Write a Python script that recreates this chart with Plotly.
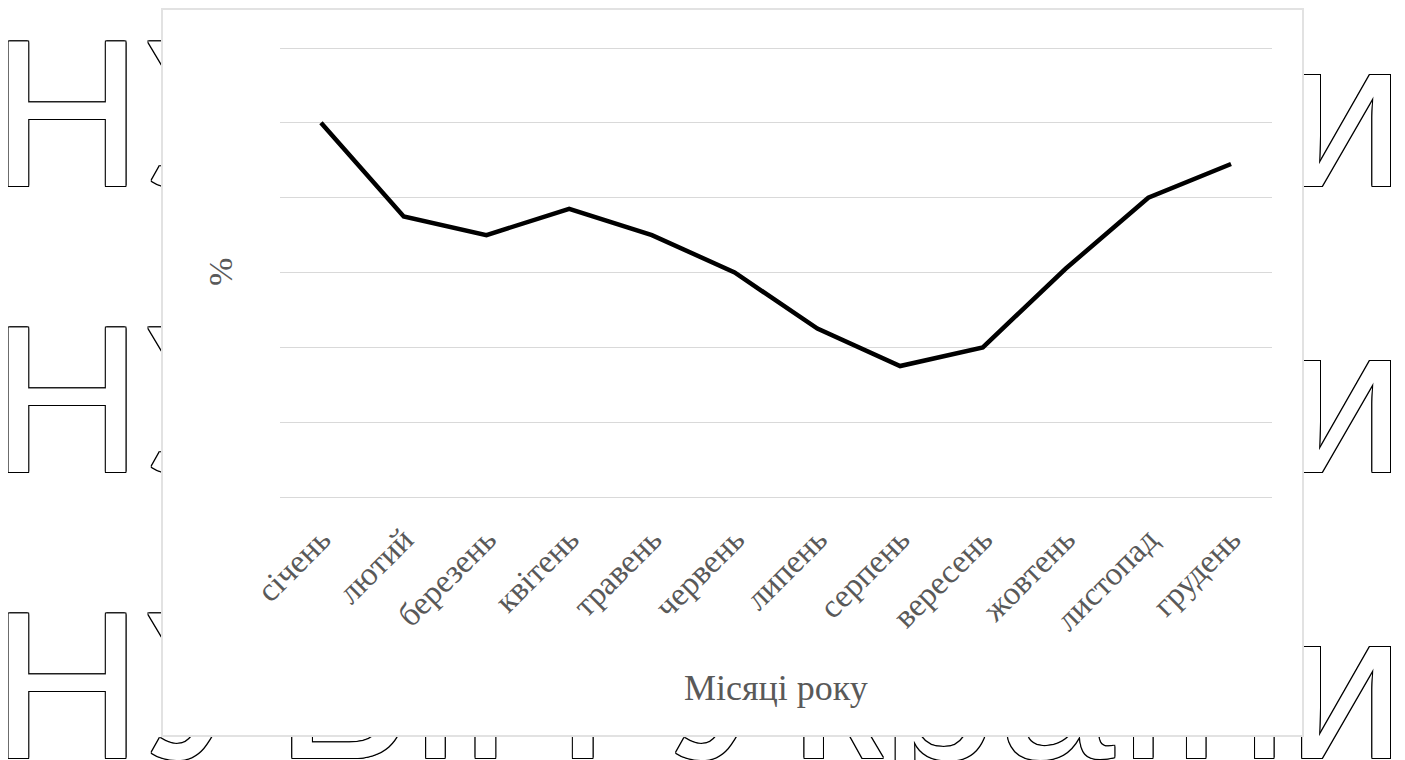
import plotly.graph_objects as go

months = ["січень", "лютий", "березень", "квітень", "травень", "червень",
          "липень", "серпень", "вересень", "жовтень", "листопад", "грудень"]
values = [10.0, 7.5, 7.0, 7.7, 7.0, 6.0, 4.5, 3.5, 4.0, 6.1, 8.0, 8.9]
x_title = "Місяці року"
y_title = "%"
watermark_text = "НУБіП України"
watermark_rows = [126, 411.5, 698]  # pixel rows of watermark (background layer)

W, H = 1405, 760
GRAY = "#595959"
SERIF = "Liberation Serif, Times New Roman, serif"

fig = go.Figure()

# background watermark layer (subplot xy, full paper, pixel coordinates)
outline = ("1px 0 0 #000, -1px 0 0 #000, 0 1px 0 #000, 0 -1px 0 #000, "
           "1px 1px 0 #000, -1px -1px 0 #000, 1px -1px 0 #000, -1px 1px 0 #000")
fig.add_trace(go.Scatter(
    x=[690] * len(watermark_rows), y=watermark_rows,
    text=[watermark_text] * len(watermark_rows),
    mode="text", textposition="middle center",
    textfont=dict(family="Liberation Sans, Arial, sans-serif", size=209,
                  color="white", shadow=outline),
    hoverinfo="skip", xaxis="x", yaxis="y", showlegend=False, cliponaxis=False,
))

# white chart box (subplot x2y2)
fig.add_trace(go.Scatter(x=[None], y=[None], xaxis="x2", yaxis="y2",
                         showlegend=False, hoverinfo="skip"))

# main line (subplot x3y3)
fig.add_trace(go.Scatter(
    x=months, y=values, mode="lines",
    line=dict(color="black", width=4.5),
    xaxis="x3", yaxis="y3", showlegend=False,
))

hidden = dict(showgrid=False, zeroline=False, showticklabels=False, ticks="")

fig.update_layout(
    width=W, height=H,
    margin=dict(l=0, r=0, t=0, b=0, autoexpand=False),
    paper_bgcolor="white", plot_bgcolor="white",
    showlegend=False,
    xaxis=dict(domain=[0, 1], range=[0, W], **hidden),
    yaxis=dict(domain=[0, 1], range=[H, 0], **hidden),
    xaxis2=dict(domain=[155 / W, 1294 / W], range=[0, 1], anchor="y2",
                showline=True, mirror=True, linecolor="#e2e2e2", linewidth=2, **hidden),
    yaxis2=dict(domain=[1 - 727 / H, 1 - 2 / H], range=[0, 1], anchor="x2",
                showline=True, mirror=True, linecolor="#e2e2e2", linewidth=2, **hidden),
    xaxis3=dict(domain=[271.6 / W, 1264.4 / W], anchor="y3",
                type="category", range=[-0.5, 11.5],
                showgrid=False, zeroline=False, ticks="", showline=False,
                tickangle=-45, ticklabelstandoff=14,
                tickfont=dict(family=SERIF, size=33, color=GRAY)),
    yaxis3=dict(domain=[1 - 490.5 / H, 1 - 38.5 / H], anchor="x3",
                range=[-0.04, 12.04], tickvals=[0, 2, 4, 6, 8, 10, 12],
                showgrid=True, gridcolor="#d9d9d9", gridwidth=1.3,
                zeroline=False, showticklabels=False, ticks=""),
    annotations=[
        dict(text=x_title, xref="paper", yref="paper",
             x=768 / W, y=1 - 680 / H, xanchor="center", yanchor="middle",
             showarrow=False, font=dict(family=SERIF, size=36, color=GRAY)),
        dict(text=y_title, xref="paper", yref="paper", textangle=-90,
             x=212 / W, y=1 - 264 / H, xanchor="center", yanchor="middle",
             showarrow=False, font=dict(family=SERIF, size=34, color=GRAY)),
    ],
)

fig.write_html("out.html", config={"displayModeBar": False})
